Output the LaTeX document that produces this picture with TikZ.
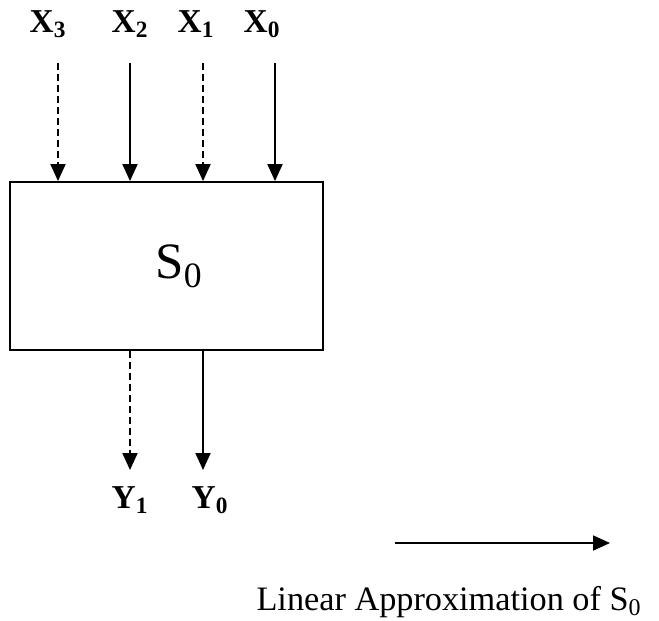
\documentclass[tikz,border=0pt]{standalone}
\usepackage{fontspec}
\setmainfont{Liberation Serif}
\usetikzlibrary{arrows.meta, positioning}

\begin{document}
\begin{tikzpicture}[
      x=0.02cm, y=-0.02cm,
      sbox/.style={rectangle, draw=black, line width=1.1pt, minimum width=6.26cm, minimum height=3.36cm, align=center, font=\fontsize{29}{34}\selectfont},
      bitlabel/.style={inner sep=0pt, font=\fontsize{19}{22}\selectfont\bfseries},
      note/.style={inner sep=0pt, font=\fontsize{19.5}{23}\selectfont},
      arrow/.style={-{Triangle[length=0.34cm, width=0.3cm]}, line width=1.1pt, black},
      dasharrow/.style={arrow, dash pattern=on 0.14cm off 0.08cm},
    ]
    \useasboundingbox (0,0) rectangle (659,620);

    \node[sbox] (s0) at (166.5,266) {\hspace*{0.5cm}S\textsubscript{0}};

    % inputs
    \node[bitlabel] (x3) at (48,24) {X\textsubscript{3}};
    \node[bitlabel] (x2) at (130,24) {X\textsubscript{2}};
    \node[bitlabel] (x1) at (196,24) {X\textsubscript{1}};
    \node[bitlabel] (x0) at (262,24) {X\textsubscript{0}};
    \coordinate (in3) at (58,63);
    \coordinate (in2) at (130,63);
    \coordinate (in1) at (203,63);
    \coordinate (in0) at (275,63);

    % outputs
    \coordinate (out1) at (130,470);
    \coordinate (out0) at (203,470);
    \node[bitlabel] (y1) at (130,500) {Y\textsubscript{1}};
    \node[bitlabel] (y0) at (210,500) {Y\textsubscript{0}};

    % legend
    \coordinate (lga) at (395,543);
    \coordinate (lgb) at (610,543);
    \node[note] (lgtext) at (449,602) {Linear Approximation of S\textsubscript{0}};

    \draw[dasharrow] (in3) -- (in3 |- s0.north);
    \draw[arrow] (in2) -- (in2 |- s0.north);
    \draw[dasharrow] (in1) -- (in1 |- s0.north);
    \draw[arrow] (in0) -- (in0 |- s0.north);
    \draw[dasharrow] (out1 |- s0.south) -- (out1);
    \draw[arrow] (out0 |- s0.south) -- (out0);
    \draw[arrow] (lga) -- (lgb);
  \end{tikzpicture}
\end{document}
